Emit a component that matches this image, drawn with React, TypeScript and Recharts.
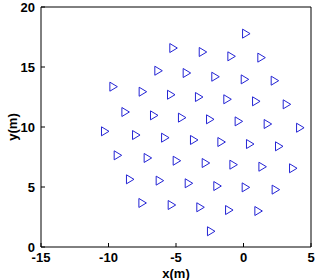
import { ScatterChart, Scatter, XAxis, YAxis } from 'recharts';

// positions (metres)
const xValues = [
  0.19, -5.2, -3.02, -0.9, 1.32,
  -6.31, -4.21, -2.09, 0.09, 2.31,
  -9.64, -7.47, -5.37, -3.3, -1.2, 0.93, 3.2,
  -8.75, -6.63, -4.56, -2.48, -0.36, 1.79, 4.19,
  -10.26, -7.96, -5.81, -3.67, -1.64, 0.48, 2.63,
  -9.32, -7.1, -4.95, -2.8, -0.75, 1.4, 3.67,
  -8.41, -6.21, -4.06, -1.94, 0.16, 2.38,
  -7.49, -5.32, -3.2, -1.07, 1.1,
  -2.41,
];
const yValues = [
  17.78, 16.58, 16.25, 15.89, 15.78,
  14.69, 14.5, 14.19, 13.97, 13.86,
  13.36, 12.94, 12.69, 12.5, 12.31, 12.14, 11.89,
  11.25, 10.97, 10.78, 10.64, 10.47, 10.25, 9.94,
  9.64, 9.33, 9.11, 8.92, 8.75, 8.58, 8.39,
  7.64, 7.42, 7.19, 7.0, 6.86, 6.69, 6.56,
  5.64, 5.53, 5.31, 5.08, 4.97, 4.78,
  3.67, 3.5, 3.31, 3.08, 3.0,
  1.31,
];
const xTicks = [-15, -10, -5, 0, 5];
const yTicks = [0, 5, 10, 15, 20];

const points = xValues.map((x, i) => ({ x, y: yValues[i] }));

const MARKER = '#2424d4';
const FONT = '"Liberation Sans", Arial, sans-serif';

const Triangle = (props: any) => {
  const { cx, cy } = props;
  if (cx == null || cy == null) return null;
  return (
    <path
      d={`M${cx - 3.5},${cy - 4.5} L${cx + 4},${cy} L${cx - 3.5},${cy + 4.5} Z`}
      fill="none"
      stroke={MARKER}
      strokeWidth={1}
    />
  );
};

const tickStyle = { fill: '#000', fontSize: 13, fontWeight: 700, fontFamily: FONT };
const blank = () => '';

const App = () => {
  return (
    <div
      style={{
        position: 'absolute',
        left: 0,
        top: 0,
        background: '#fff',
        fontFamily: FONT,
        fontWeight: 700,
      }}
    >
      <ScatterChart width={318} height={280} margin={{ top: 6, right: 6, left: 0, bottom: 0 }}>
        <XAxis
          xAxisId="b"
          type="number"
          dataKey="x"
          domain={[-15, 5]}
          ticks={xTicks}
          interval={0}
          height={33}
          stroke="#000"
          tickSize={-4}
          tickMargin={10}
          tick={tickStyle}
          label={{ value: 'x(m)', position: 'insideBottom', offset: 2, style: tickStyle }}
        />
        <XAxis
          xAxisId="t"
          orientation="top"
          type="number"
          domain={[-15, 5]}
          ticks={xTicks}
          interval={0}
          height={1}
          stroke="#000"
          tickSize={-4}
          tickFormatter={blank}
        />
        <YAxis
          yAxisId="l"
          type="number"
          dataKey="y"
          domain={[0, 20]}
          ticks={yTicks}
          interval={0}
          width={41}
          stroke="#000"
          tickSize={-4}
          tickMargin={10}
          tick={tickStyle}
          label={{ value: 'y(m)', angle: -90, position: 'insideLeft', offset: 12, style: { ...tickStyle, textAnchor: 'middle' } }}
        />
        <YAxis
          yAxisId="r"
          orientation="right"
          type="number"
          domain={[0, 20]}
          ticks={yTicks}
          interval={0}
          width={1}
          stroke="#000"
          tickSize={-4}
          tickFormatter={blank}
        />
        <Scatter
          xAxisId="b"
          yAxisId="l"
          data={points}
          shape={<Triangle />}
          isAnimationActive={false}
        />
      </ScatterChart>
    </div>
  );
};

export default App;
